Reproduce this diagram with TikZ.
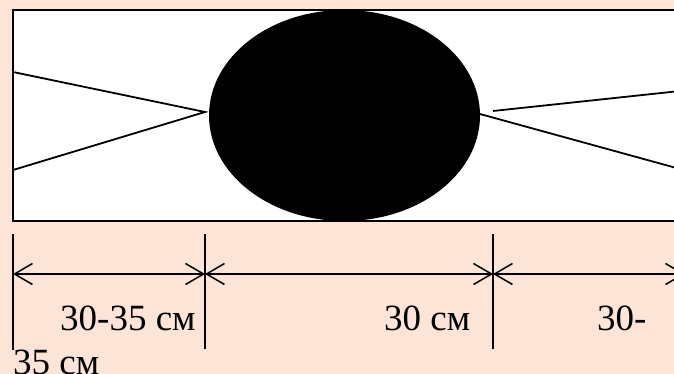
\documentclass[tikz,border=0pt]{standalone}
\usepackage{fontspec}
\setmainfont{Liberation Serif}
\usetikzlibrary{arrows.meta,shapes.geometric}
\definecolor{bgpink}{RGB}{252,228,214}
\tikzset{
  outline/.style={line width=2.2pt,draw=black},
  thinline/.style={line width=1.8pt,draw=black},
  dimline/.style={line width=1.5pt,draw=black,{Straight Barb[length=18pt,width=21pt,line width=1.5pt]}-{Straight Barb[length=18pt,width=21pt,line width=1.5pt]}},
  tick/.style={line width=1.5pt,draw=black},
  lab/.style={anchor=base west,inner sep=0pt,font=\fontsize{37}{42}\selectfont}
}
\begin{document}
\begin{tikzpicture}[x=1pt,y=-1pt]
\useasboundingbox (0,0) rectangle (674,374);
\fill[bgpink] (0,0) rectangle (674,374);
\draw[outline,fill=white] (13,10) rectangle (690,221);
\node[ellipse,fill=black,inner sep=0pt,minimum width=271pt,minimum height=211pt] (ball) at (344.5,115.5) {};
\coordinate (lt) at (13,72);
\coordinate (lb) at (13,170);
\coordinate (lm) at (205,112);
\coordinate (rs) at (493,111);
\coordinate (rt) at (680,91);
\coordinate (rm) at (480,114);
\coordinate (rb) at (680,169);
\draw[thinline] (lt) -- (lm) -- (lb);
\draw[thinline] (rs) -- (rt);
\draw[thinline] (rm) -- (rb);
\coordinate (t1a) at (13,234); \coordinate (t1b) at (13,350);
\coordinate (t2a) at (205,234); \coordinate (t2b) at (205,349);
\coordinate (t3a) at (493,234); \coordinate (t3b) at (493,349);
\draw[tick] (t1a) -- (t1b);
\draw[tick] (t2a) -- (t2b);
\draw[tick] (t3a) -- (t3b);
\coordinate (d1) at (13,274);
\coordinate (d2) at (205,274);
\coordinate (d3) at (493,274);
\coordinate (d4) at (685,274);
\draw[dimline] (d1) -- (d2);
\draw[dimline] (d2) -- (d3);
\draw[dimline] (d3) -- (d4);
\node[lab] (l1) at (60,330) {30-35 см};
\node[lab] (l2) at (384,330) {30 см};
\node[lab] (l3) at (597,330) {30-};
\node[lab] (l4) at (13,374) {35 см};
\end{tikzpicture}
\end{document}
